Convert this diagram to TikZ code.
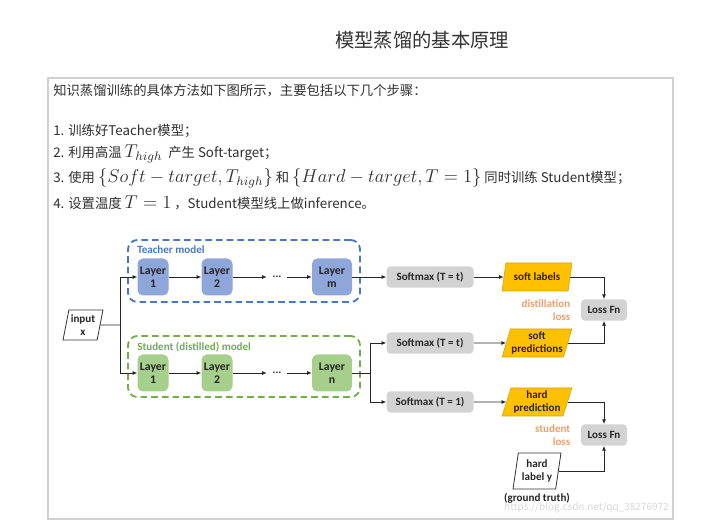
\documentclass[tikz,border=0pt]{standalone}
\usepackage{graphicx}
\usepackage[no-math]{fontspec}
\setmainfont{Noto Sans CJK SC}
\newfontfamily\dfont{Carlito}
\usetikzlibrary{shapes.geometric,arrows.meta}
\definecolor{tblue}{HTML}{4A76C6}
\definecolor{tfill}{HTML}{8EA6DA}
\definecolor{sgreen}{HTML}{72AE4C}
\definecolor{sfill}{HTML}{A6CF8C}
\definecolor{gfill}{HTML}{D3D3D3}
\definecolor{yfill}{HTML}{FFC000}
\definecolor{otext}{HTML}{F0A06C}
\definecolor{txt}{HTML}{303030}
\newcommand{\mth}[1]{\scalebox{1.16}{\fontsize{12}{14}\selectfont$#1$}}
\tikzset{
 conn/.style={draw=black!85, line width=0.6pt},
 arr/.style={conn, -{Latex[length=3.5pt,width=3pt]}},
 dtext/.style={font=\dfont\bfseries\fontsize{8.3}{9.4}\selectfont, align=center, text=black!85},
 tlayer/.style={dtext, font=\dfont\bfseries\fontsize{8.8}{10}\selectfont, fill=tfill, rounded corners=4pt, minimum width=23.25pt, minimum height=27.75pt, inner sep=0.5pt},
 slayer/.style={tlayer, fill=sfill},
 graybox/.style={dtext, fill=gfill, rounded corners=3pt, minimum height=16pt, inner sep=1pt},
 para/.style={dtext, trapezium, trapezium left angle=70, trapezium right angle=110, trapezium stretches=true, inner sep=0pt},
 yellowpara/.style={para, fill=yfill, draw=yfill!85!black, line width=0.4pt},
 whitepara/.style={para, draw=black!80, fill=white, line width=0.6pt},
 modelframe/.style={rounded corners=7pt, dash pattern=on 5pt off 3pt, line width=1.4pt, minimum width=174pt, inner sep=0pt},
 bodytext/.style={anchor=west, inner sep=0pt, text=txt, font=\fontsize{10}{12}\selectfont},
 losslabel/.style={dtext, text=otext, align=right, anchor=east},
}
\begin{document}
\begin{tikzpicture}[x=0.75pt,y=-0.75pt]
\useasboundingbox[fill=white] (0,0) rectangle (704,530);
% title and frame
\node[font=\fontsize{14.5}{16}\selectfont, text=black!80] (title) at (422,40) {模型蒸馏的基本原理};
\draw[black!18, line width=0.8pt] (48,78) rectangle (673,519);
% text
\node[bodytext] (l0) at (53,91) {知识蒸馏训练的具体方法如下图所示，主要包括以下几个步骤：};
\node[bodytext] (l1) at (53,131) {1. 训练好Teacher模型；};
\node[bodytext] (l2) at (53,154) {2. 利用高温 \mth{T_{high}} \ 产生 Soft-target；};
\node[bodytext] (l3) at (53,178) {3. 使用 \mth{\{Soft-target, T_{high}\}} 和 \mth{\{Hard-target, T=1\}} 同时训练 Student模型；};
\node[bodytext] (l4) at (53,203) {4. 设置温度 \mth{T=1} ，Student模型线上做inference。};
% model frames
\node[modelframe, draw=tblue, minimum width=174pt, minimum height=46.5pt] (tbox) at (244,271) {};
\node[modelframe, draw=sgreen, minimum width=174pt, minimum height=45.75pt] (sbox) at (244,366.5) {};
\node[dtext, text=tblue, anchor=west, inner sep=0pt] (tlabel) at (137,250) {Teacher model};
\node[dtext, text=sgreen, anchor=west, inner sep=0pt] (slabel) at (137,347) {Student (distilled) model};
% layers
\node[tlayer] (t1) at (153,277) {Layer\\1};
\node[tlayer] (t2) at (217,277) {Layer\\2};
\node[dtext, minimum width=15pt, inner sep=0pt] (tdots) at (277,277) {...};
\node[tlayer, minimum width=30pt] (tm) at (332,277) {Layer\\m};
\node[slayer] (s1) at (153,373) {Layer\\1};
\node[slayer] (s2) at (217,373) {Layer\\2};
\node[dtext, minimum width=15pt, inner sep=0pt] (sdots) at (277,373) {...};
\node[slayer, minimum width=30pt] (sn) at (332,373) {Layer\\n};
% input
\node[whitepara, trapezium left angle=76, trapezium right angle=104, minimum width=30pt, minimum height=22.5pt] (input) at (83,325) {input\\x};
\coordinate (isplit) at (120,325);
\draw[conn] (input.east) -- (isplit);
\draw[arr] (isplit) |- (t1.west);
\draw[arr] (isplit) |- (s1.west);
\draw[arr] (t1) -- (t2);
\draw[arr] (t2) -- (tdots);
\draw[arr] (tdots) -- (tm);
\draw[arr] (s1) -- (s2);
\draw[arr] (s2) -- (sdots);
\draw[arr] (sdots) -- (sn);
% softmax
\node[graybox, minimum width=65.25pt] (sm1) at (430,277) {Softmax (T = t)};
\node[graybox, minimum width=65.25pt] (sm2) at (430,343) {Softmax (T = t)};
\node[graybox, minimum width=65.25pt] (sm3) at (430,402) {Softmax (T = 1)};
\draw[arr] (tm) -- (sm1);
\coordinate (ssplit) at (370,373);
\draw[conn] (sn.east) -- (ssplit);
\draw[arr] (ssplit) |- (sm2.west);
\draw[arr] (ssplit) |- (sm3.west);
% outputs
\node[yellowpara, minimum width=52.5pt, minimum height=21pt] (softlab) at (537,277) {soft labels};
\node[yellowpara, minimum width=52.5pt, minimum height=21pt] (softpred) at (537,343) {soft\\predictions};
\node[yellowpara, minimum width=52.5pt, minimum height=21pt] (hardpred) at (537,402) {hard\\prediction};
\node[whitepara, trapezium left angle=79, trapezium right angle=101, minimum width=36pt, minimum height=27pt] (hardlab) at (537,471) {hard\\label y};
\node[dtext, inner sep=0pt] (gt) at (537,498) {(ground truth)};
\draw[arr] (sm1) -- (softlab);
\draw[arr] (sm2) -- (softpred);
\draw[arr] (sm3) -- (hardpred);
% loss
\node[graybox, minimum width=34.5pt] (loss1) at (604,310) {Loss Fn};
\node[graybox, minimum width=34.5pt] (loss2) at (604,435) {Loss Fn};
\draw[arr] (softlab.east) -| (loss1.north);
\draw[arr] (softpred.east) -| (loss1.south);
\draw[arr] (hardpred.east) -| (loss2.north);
\draw[arr] (hardlab.east) -| (loss2.south);
\node[losslabel] (dloss) at (575,310) {distillation\\loss};
\node[losslabel] (sloss) at (575,435) {student\\loss};
% watermark
\node[anchor=east, text=black!15, font=\fontsize{7.5}{8.5}\selectfont, inner sep=0pt] (wm) at (669,508) {https://blog.csdn.net/qq\_38276972};
\end{tikzpicture}
\end{document}
